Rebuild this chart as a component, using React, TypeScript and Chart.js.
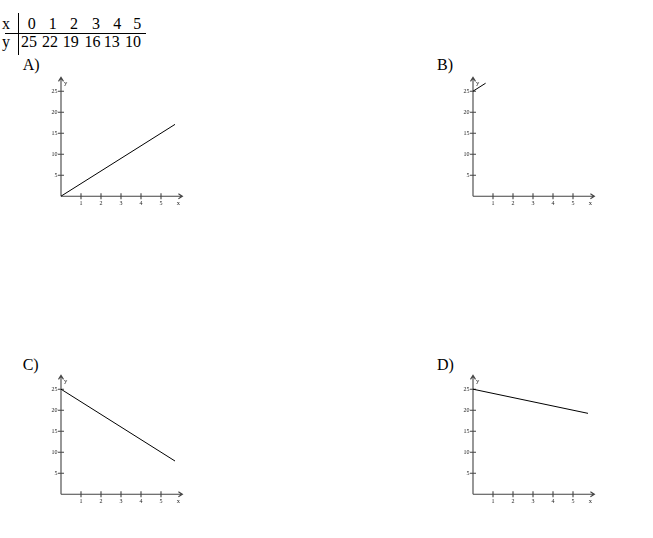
import React, { useEffect, useRef } from "react";
import { Chart, registerables } from "chart.js";

Chart.register(...registerables);

// ---- data ----
const tableX = [0, 1, 2, 3, 4, 5];
const tableY = [25, 22, 19, 16, 13, 10];
const xTicks = [1, 2, 3, 4, 5];
const yTicks = [5, 10, 15, 20, 25];
const optionLabels = ["A)", "B)", "C)", "D)"];
const lineA = [{ x: 0, y: 0 }, { x: 5.7, y: 17.1 }];
const lineB = [{ x: 0, y: 25 }, { x: 0.63, y: 26.9 }];
const lineC = [{ x: 0, y: 25 }, { x: 5.7, y: 7.9 }];
const lineD = [{ x: 0, y: 25 }, { x: 5.75, y: 19.25 }];
const axisXMax = 6.07;
const axisYMax = 28.3;

const SERIF = '"Liberation Serif", "Times New Roman", serif';

const axesPlugin = {
  id: "mathAxes",
  beforeDatasetsDraw(chart: any) {
    const { ctx, scales } = chart;
    const xs = scales.x;
    const ys = scales.y;
    const px = (v: number) => xs.getPixelForValue(v);
    const py = (v: number) => ys.getPixelForValue(v);
    const ox = px(0);
    const oy = py(0);
    ctx.save();
    ctx.strokeStyle = "#444";
    ctx.fillStyle = "#222";
    ctx.lineWidth = 1.1;
    // y axis
    const ty = py(axisYMax);
    ctx.beginPath();
    ctx.moveTo(ox, oy);
    ctx.lineTo(ox, ty);
    ctx.moveTo(ox - 2.5, ty + 4);
    ctx.lineTo(ox, ty);
    ctx.lineTo(ox + 2.5, ty + 4);
    // x axis
    const tx = px(axisXMax);
    ctx.moveTo(ox, oy);
    ctx.lineTo(tx, oy);
    ctx.moveTo(tx - 4, oy - 2.5);
    ctx.lineTo(tx, oy);
    ctx.lineTo(tx - 4, oy + 2.5);
    // ticks
    yTicks.forEach((t) => {
      ctx.moveTo(ox - 3, py(t));
      ctx.lineTo(ox + 3, py(t));
    });
    xTicks.forEach((t) => {
      ctx.moveTo(px(t), oy - 3);
      ctx.lineTo(px(t), oy + 3);
    });
    ctx.stroke();
    // labels
    ctx.font = `6px ${SERIF}`;
    ctx.textBaseline = "middle";
    ctx.textAlign = "right";
    yTicks.forEach((t) => ctx.fillText(String(t), ox - 3.5, py(t)));
    ctx.textAlign = "center";
    xTicks.forEach((t) => ctx.fillText(String(t), px(t), oy + 7.5));
    ctx.font = `6.5px ${SERIF}`;
    ctx.fillText("x", tx - 4, oy + 7.5);
    ctx.textAlign = "left";
    ctx.fillText("y", ox + 3, py(26.8));
    ctx.restore();
  },
};

function Panel({ data, left, top }: { data: { x: number; y: number }[]; left: number; top: number }) {
  const ref = useRef<HTMLCanvasElement>(null);
  useEffect(() => {
    const chart = new Chart(ref.current!, {
      type: "line",
      data: {
        datasets: [
          {
            data,
            borderColor: "#000",
            borderWidth: 1,
            pointRadius: 0,
            fill: false,
            tension: 0,
          },
        ],
      },
      options: {
        animation: false,
        responsive: false,
        maintainAspectRatio: false,
        layout: { padding: 0 },
        plugins: { legend: { display: false }, tooltip: { enabled: false }, title: { display: false } },
        scales: {
          x: { type: "linear", min: -1.5, max: 6.5, display: false },
          y: { type: "linear", min: -4, max: 31, display: false },
        },
      },
      plugins: [axesPlugin],
    });
    return () => chart.destroy();
  }, [data]);
  return (
    <canvas
      ref={ref}
      width={160}
      height={147}
      style={{ position: "absolute", left, top, width: 160, height: 147 }}
    />
  );
}

const textStyle: React.CSSProperties = {
  position: "absolute",
  fontFamily: SERIF,
  fontSize: 16,
  lineHeight: "16px",
  color: "#000",
  whiteSpace: "nowrap",
};

export default function App() {
  const colX1 = [31.7, 52.7, 74, 96, 117.3, 137.3];
  const colX2 = [29, 50, 70.8, 92.5, 111.7, 133];
  return (
    <div style={{ position: "absolute", left: 0, top: 0, width: 653, height: 538, background: "#fff" }}>
      {/* table */}
      <span style={{ ...textStyle, left: 2, top: 15.6 }}>x</span>
      <span style={{ ...textStyle, left: 2, top: 34 }}>y</span>
      {tableX.map((v, i) => (
        <span key={"x" + i} style={{ ...textStyle, left: colX1[i], top: 15.6, transform: "translateX(-50%)" }}>
          {v}
        </span>
      ))}
      {tableY.map((v, i) => (
        <span key={"y" + i} style={{ ...textStyle, left: colX2[i], top: 34, transform: "translateX(-50%)" }}>
          {v}
        </span>
      ))}
      <div style={{ position: "absolute", left: 5, top: 33, width: 141, height: 1, background: "#000" }} />
      <div style={{ position: "absolute", left: 18, top: 13, width: 1, height: 42, background: "#000" }} />
      {/* option labels */}
      <span style={{ ...textStyle, left: 22.7, top: 56.6 }}>{optionLabels[0]}</span>
      <span style={{ ...textStyle, left: 437, top: 56.6 }}>{optionLabels[1]}</span>
      <span style={{ ...textStyle, left: 22.7, top: 356.6 }}>{optionLabels[2]}</span>
      <span style={{ ...textStyle, left: 437, top: 356.6 }}>{optionLabels[3]}</span>
      {/* graphs */}
      <Panel data={lineA} left={30.7} top={65.5} />
      <Panel data={lineB} left={443.3} top={65.5} />
      <Panel data={lineC} left={30.7} top={364.1} />
      <Panel data={lineD} left={443.3} top={364.1} />
    </div>
  );
}
